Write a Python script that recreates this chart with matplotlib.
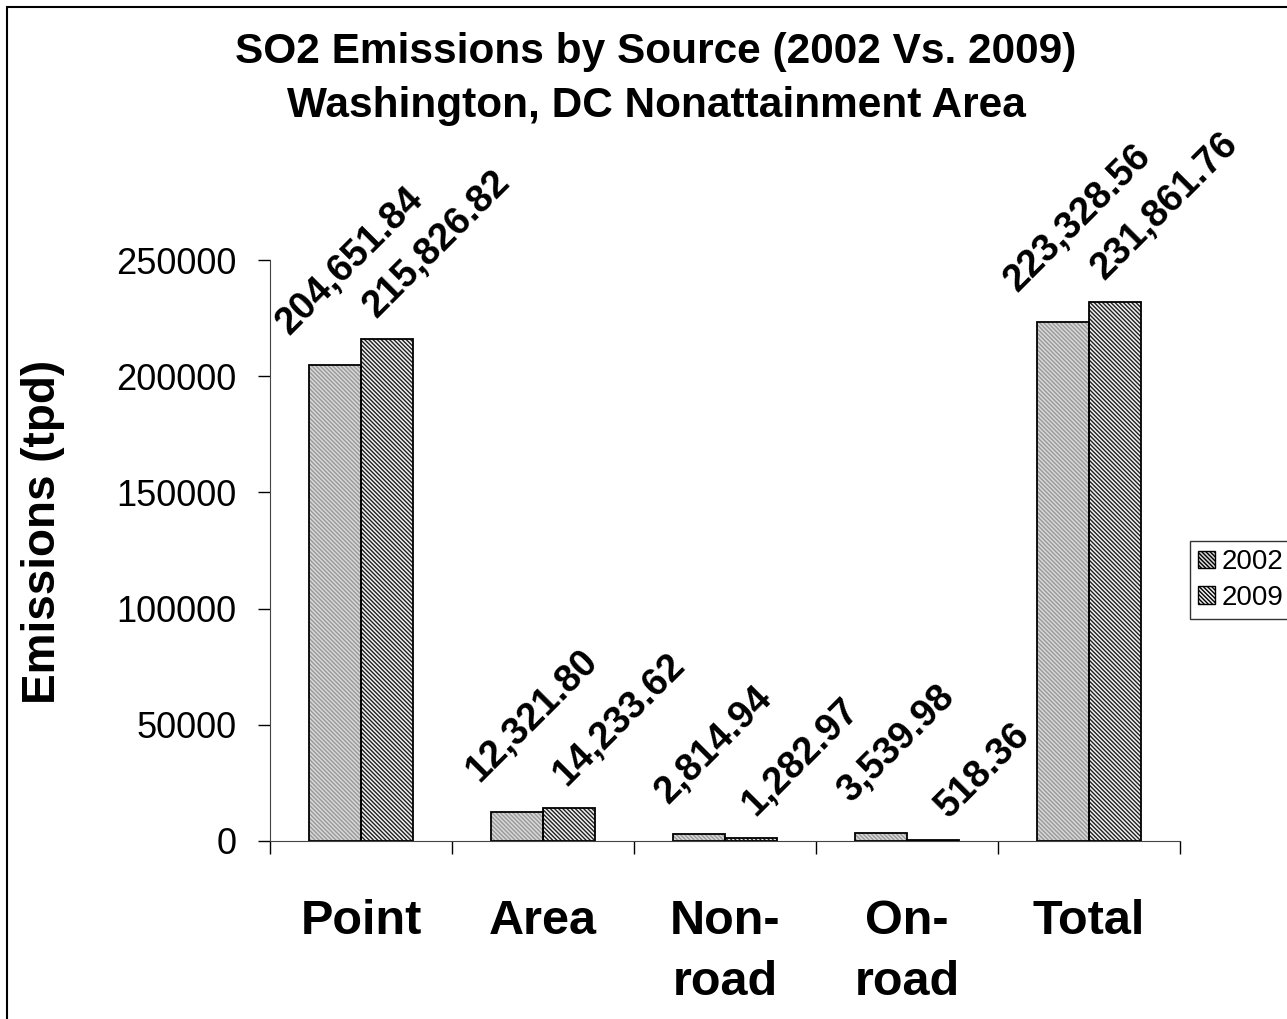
import numpy as np
import matplotlib
matplotlib.use("Agg")
import matplotlib.pyplot as plt
from matplotlib.patches import Rectangle

plt.rcParams['font.family'] = ['Liberation Sans', 'DejaVu Sans']
plt.rcParams['hatch.linewidth'] = 1.0

# data
categories = ['Point', 'Area', 'Non-\nroad', 'On-\nroad', 'Total']
years = ['2002', '2009']
emis_2002 = [204651.84, 12321.80, 2814.94, 3539.98, 223328.56]
emis_2009 = [215826.82, 14233.62, 1282.97, 518.36, 231861.76]
y_ticks = [0, 50000, 100000, 150000, 200000, 250000]

W, H = 1287, 1019
fig = plt.figure(figsize=(W / 100, H / 100), dpi=100, facecolor='white')
ax = fig.add_axes([270 / W, 1 - 841 / H, 910 / W, 581 / H])

x = np.arange(len(categories))
bw = 0.286
hatch = '\\' * 8

series = [
    (emis_2002, -bw / 2, '#d8d8d8', '#999999', (11, 17)),
    (emis_2009, bw / 2, '#f0f0f0', '#202020', (36, 11)),
]
handles = []
for (vals, off, face, hcol, lab_off), yr in zip(series, years):
    # hatched fill, then black outline on top
    ax.bar(x + off, vals, bw, color=face, edgecolor=hcol, hatch=hatch,
           linewidth=0, zorder=2)
    ax.bar(x + off, vals, bw, fill=False, edgecolor='black', linewidth=1.3,
           zorder=3)
    h = Rectangle((0, 0), 1, 1, facecolor=face, edgecolor=hcol, hatch=hatch,
                  linewidth=0)
    handles.append(h)
    for xi, v in zip(x + off, vals):
        ax.annotate(f'{v:,.2f}', (xi, v), xytext=lab_off, textcoords='offset points',
                    rotation=45, ha='center', va='bottom', fontsize=27.5,
                    fontweight='bold', annotation_clip=False)

ax.set_xlim(-0.5, len(categories) - 0.5)
ax.set_ylim(0, 250000)
ax.set_yticks(y_ticks)
ax.set_yticklabels([str(t) for t in y_ticks], fontsize=26)
ax.tick_params(axis='y', direction='out', length=9, width=1, pad=15, colors='black')

ax.set_xticks(x)
ax.set_xticklabels(categories, fontsize=35, fontweight='bold', linespacing=1.45)
ax.tick_params(axis='x', which='major', length=0, pad=42)
ax.set_xticks(np.arange(len(categories) + 1) - 0.5, minor=True)
ax.tick_params(axis='x', which='minor', direction='out', length=9, width=1)

for s in ['top', 'right']:
    ax.spines[s].set_visible(False)
ax.spines['left'].set_color('#444444')
ax.spines['bottom'].set_color('#444444')

# titles
fig.text(656 / W, 1 - 63 / H, 'SO2 Emissions by Source (2002 Vs. 2009)',
         ha='center', va='baseline', fontsize=30.5, fontweight='bold')
fig.text(656 / W, 1 - 117 / H, 'Washington, DC Nonattainment Area',
         ha='center', va='baseline', fontsize=30.5, fontweight='bold')
fig.text(43 / W, 1 - 532 / H, 'Emissions (tpd)', rotation=90, ha='center',
         va='center', fontsize=33, fontweight='bold')

leg = fig.legend(handles, years, loc='upper left',
                 bbox_to_anchor=(1190 / W, 1 - 541 / H), fontsize=20,
                 frameon=True, fancybox=False, handlelength=0.6, handleheight=0.6,
                 handletextpad=0.25, borderpad=0.3, labelspacing=0.35,
                 borderaxespad=0)
leg.get_frame().set_edgecolor('black')
leg.get_frame().set_linewidth(1.0)
for h in leg.legend_handles:
    h.set_edgecolor('black')
    h.set_linewidth(1.0)

# chart frame (only left and top edges fall inside the picture)
fig.patches.append(Rectangle((7 / W, -0.1), 1.2, 1 - 7 / H + 0.1, fill=False,
                             edgecolor='black', linewidth=1.5,
                             transform=fig.transFigure, figure=fig))

fig.savefig('out.png', dpi=100, facecolor='white')
